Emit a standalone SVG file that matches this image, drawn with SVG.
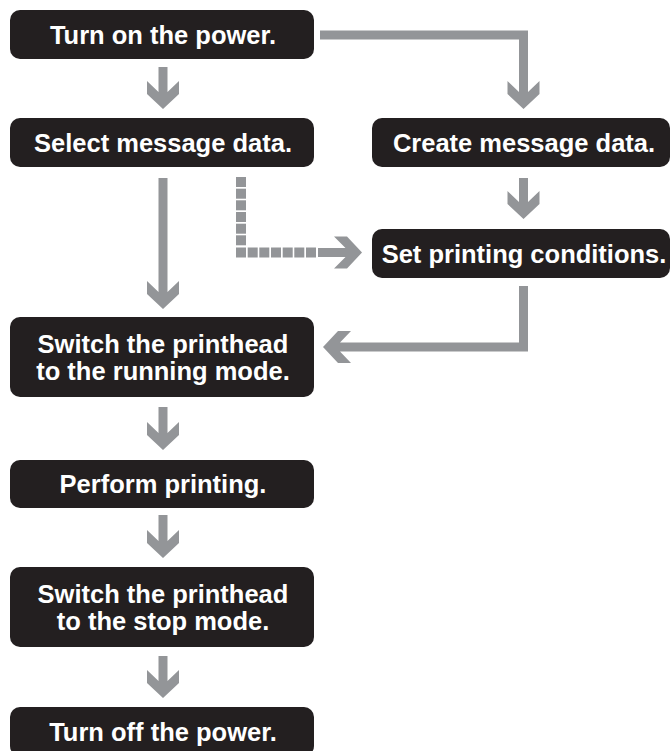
<svg xmlns="http://www.w3.org/2000/svg" width="671" height="751" viewBox="0 0 671 751">
<style>
.box{fill:#231f20}
.t{font-family:"Liberation Sans",Arial,sans-serif;font-weight:bold;font-size:25.5px;fill:#ffffff;text-anchor:middle}
.c{fill:#939598}
</style>
<rect width="671" height="751" fill="#ffffff"/>
<g id="connectors">
<polygon class="c" points="158.5,67 167.5,67 167.5,92 179,81 179,94 163,109 147,94 147,81 158.5,92"/>
<polygon class="c" points="320,30.5 528,30.5 528,92 539.5,81 539.5,94 523.5,109 507.5,94 507.5,81 519,92 519,39.5 320,39.5"/>
<polygon class="c" points="158.5,178 167.5,178 167.5,292 179,281 179,294 163,309 147,294 147,281 158.5,292"/>
<polygon class="c" points="519,178 528,178 528,202 539.5,191 539.5,204 523.5,219 507.5,204 507.5,191 519,202"/>
<polygon class="c" points="519,286 528,286 528,351.5 340,351.5 351,363 338,363 323,347 338,331 351,331 340,342.5 519,342.5"/>
<g class="c">
<rect x="236" y="177" width="10" height="10"/>
<rect x="236" y="188.7" width="10" height="10"/>
<rect x="236" y="200.3" width="10" height="10"/>
<rect x="236" y="212" width="10" height="10"/>
<rect x="236" y="223.7" width="10" height="10"/>
<rect x="236" y="235.3" width="10" height="10"/>
<rect x="236" y="247.5" width="10" height="10"/>
<rect x="247.7" y="247.5" width="10" height="10"/>
<rect x="259.3" y="247.5" width="10" height="10"/>
<rect x="271" y="247.5" width="10" height="10"/>
<rect x="282.7" y="247.5" width="10" height="10"/>
<rect x="294.3" y="247.5" width="10" height="10"/>
<rect x="306" y="247.5" width="10" height="10"/>
</g>
<polygon class="c" points="318,248 345.5,248 334,236.5 347,236.5 362,252.5 347,268.5 334,268.5 345.5,257 318,257"/>
<polygon class="c" points="158.5,407 167.5,407 167.5,433 179,422 179,435 163,450 147,435 147,422 158.5,433"/>
<polygon class="c" points="158.5,515 167.5,515 167.5,541 179,530 179,543 163,558 147,543 147,530 158.5,541"/>
<polygon class="c" points="158.5,656 167.5,656 167.5,681 179,670 179,683 163,698 147,683 147,670 158.5,681"/>
</g>
<g id="n1"><rect class="box" x="10" y="10" width="304" height="49" rx="10"/><text class="t" x="163" y="43.5">Turn on the power.</text></g>
<g id="n2"><rect class="box" x="10" y="118" width="304" height="49" rx="10"/><text class="t" x="163" y="151.5">Select message data.</text></g>
<g id="n3"><rect class="box" x="372" y="118" width="298" height="49" rx="10"/><text class="t" x="524" y="151.5">Create message data.</text></g>
<g id="n4"><rect class="box" x="372" y="229" width="298" height="49" rx="10"/><text class="t" x="524" y="262.5">Set printing conditions.</text></g>
<g id="n5"><rect class="box" x="10" y="317" width="304" height="80" rx="10"/><text class="t" x="163" y="352.5">Switch the printhead</text><text class="t" x="163" y="379.5">to the running mode.</text></g>
<g id="n6"><rect class="box" x="10" y="460" width="304" height="48" rx="10"/><text class="t" x="163" y="493">Perform printing.</text></g>
<g id="n7"><rect class="box" x="10" y="567" width="304" height="80" rx="10"/><text class="t" x="163" y="602.5">Switch the printhead</text><text class="t" x="163" y="629.5">to the stop mode.</text></g>
<g id="n8"><rect class="box" x="10" y="707" width="304" height="49" rx="10"/><text class="t" x="163" y="740.5">Turn off the power.</text></g>
</svg>
